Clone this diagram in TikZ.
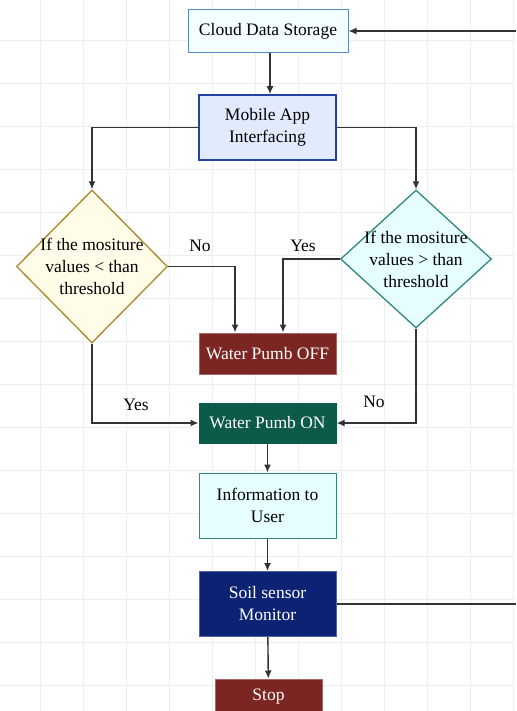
\documentclass[tikz,border=0pt]{standalone}
\usepackage{fontspec}
\setmainfont{Liberation Serif}
\usetikzlibrary{shapes.geometric,arrows.meta}
\definecolor{gridcol}{HTML}{EEEEEE}
\definecolor{linecol}{HTML}{333333}
\definecolor{cloudfill}{HTML}{F2FEFF}
\definecolor{cloudline}{HTML}{5A88C4}
\definecolor{appfill}{HTML}{E1EBFD}
\definecolor{appline}{HTML}{2142A0}
\definecolor{ylwfill}{HTML}{FFFDE8}
\definecolor{ylwline}{HTML}{A8882A}
\definecolor{cyanfill}{HTML}{E6FEFF}
\definecolor{tealline}{HTML}{2E8B7B}
\definecolor{redfill}{HTML}{7B2622}
\definecolor{onfill}{HTML}{0C5A4A}
\definecolor{navyfill}{HTML}{0B2372}
\tikzset{
  box/.style={rectangle, draw, line width=1pt, inner sep=0pt, align=center,
    font=\fontsize{17.5}{22}\selectfont},
  decision/.style={diamond, draw, line width=1.3pt, inner sep=0pt,
    minimum width=151pt, minimum height=153pt},
  dtext/.style={align=center, inner sep=0pt, font=\fontsize{17.5}{22}\selectfont},
  lbl/.style={inner sep=0pt, font=\fontsize{17.5}{22}\selectfont},
  flow/.style={draw=linecol, line width=1.4pt, -{Latex[length=8pt,width=7pt]}},
  plain/.style={draw=linecol, line width=1.4pt}
}
\begin{document}
\begin{tikzpicture}[x=1pt,y=-1pt]
\useasboundingbox (0,0) rectangle (516,711);
\clip (0,0) rectangle (516,711);
\fill[white] (0,0) rectangle (516,711);
% grid
\foreach \g in {0,...,11}{
  \draw[gridcol, line width=0.8pt] (40+43*\g,0) -- (40+43*\g,711);
}
\foreach \g in {0,...,15}{
  \draw[gridcol, line width=0.8pt] (0,40+43*\g) -- (516,40+43*\g);
}
% boxes
\node[box, draw=cloudline, fill=cloudfill, minimum width=160pt, minimum height=43pt] (cloud) at (268,31){Cloud Data Storage};
\node[box, draw=appline, fill=appfill, line width=1.6pt, minimum width=137pt, minimum height=65pt] (app) at (267.5,127.5){Mobile App\\Interfacing};
\node[decision, draw=ylwline, fill=ylwfill] (dlow) at (92,266.5){};
\node[dtext] (dlowtxt) at (dlow.center){If the mositure\\values < than\\threshold};
\node[decision, draw=tealline, fill=cyanfill, minimum height=138pt] (dhigh) at (416,259){};
\node[dtext] (dhightxt) at (dhigh.center){If the mositure\\values > than\\threshold};
\node[box, draw=redfill!70!white, fill=redfill, text=white, minimum width=137pt, minimum height=41pt] (off) at (267.5,353.5){Water Pumb OFF};
\node[box, draw=onfill, fill=onfill, text=white, minimum width=137pt, minimum height=40pt] (on) at (267.5,423){Water Pumb ON};
\node[box, draw=tealline, fill=cyanfill, minimum width=137pt, minimum height=65pt] (info) at (267.5,505.5){Information to\\User};
\node[box, draw=navyfill!70!white, fill=navyfill, text=white, minimum width=137pt, minimum height=65pt] (soil) at (267.5,604){Soil sensor\\Monitor};
\node[box, draw=redfill!70!white, fill=redfill, text=white, minimum width=107pt, minimum height=36pt] (stop) at (268.5,697){Stop};
% labels
\node[lbl] (lno1) at (200,246){No};
\node[lbl] (lyes1) at (303,246){Yes};
\node[lbl] (lyes2) at (136,405){Yes};
\node[lbl] (lno2) at (374,402){No};
% connectors
\coordinate (loopT) at (cloud.east -| 516,0);
\coordinate (loopR) at (soil.east -| 516,0);
\draw[flow] (loopT) -- (cloud.east);
\draw[flow] (cloud.south -| 270,0) -- (app.north -| 270,0);
\draw[flow] (app.west) -| (dlow.north);
\draw[flow] (app.east) -| (dhigh.north);
\draw[flow] (dlow.east) -| (235,0 |- off.north);
\draw[flow] (dhigh.west) -| (283,0 |- off.north);
\draw[flow] (dlow.south) |- (on.west);
\draw[flow] (dhigh.south) |- (on.east);
\draw[flow] (on) -- (info);
\draw[flow] (info) -- (soil);
\draw[flow] (soil) -- (stop);
\draw[plain] (soil.east) -- (loopR);
\end{tikzpicture}
\end{document}
